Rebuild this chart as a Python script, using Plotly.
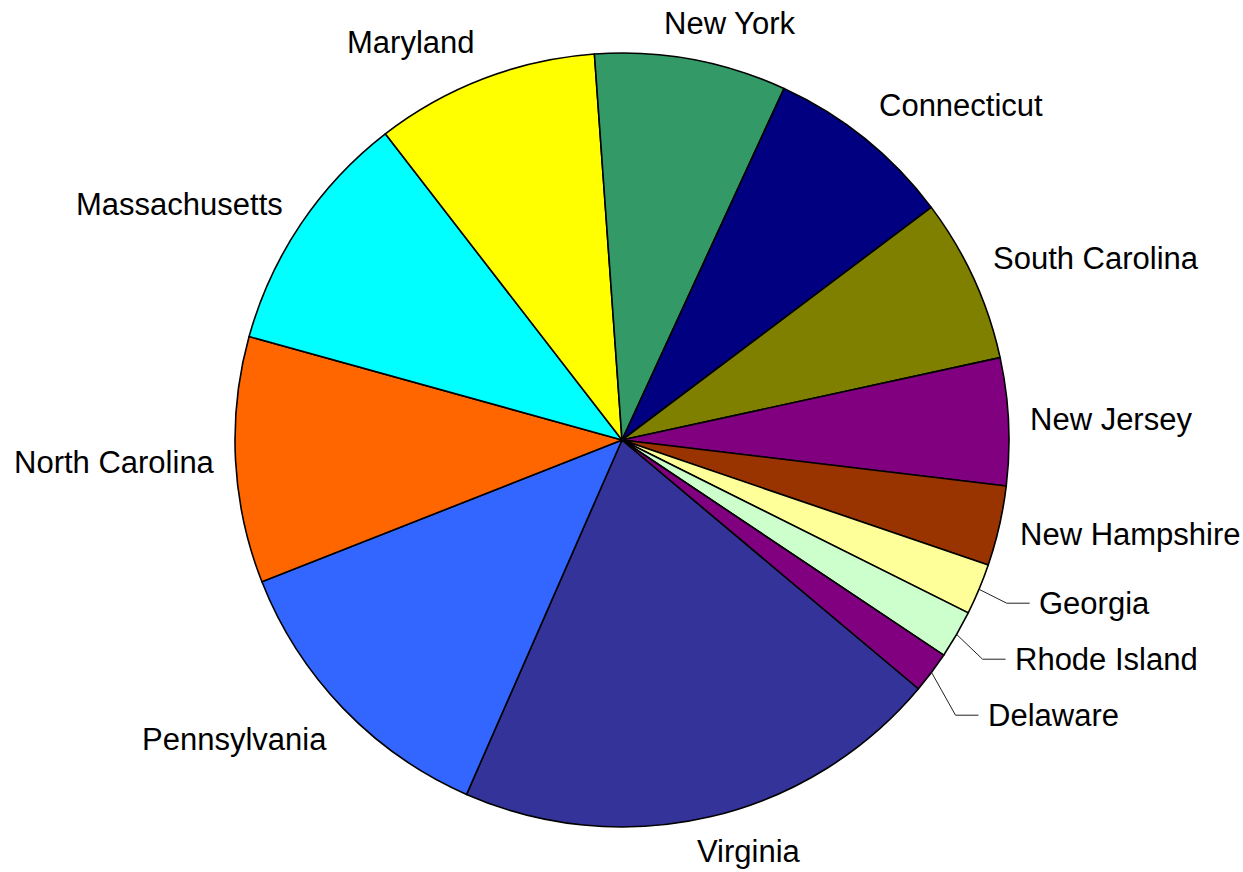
import math
import plotly.graph_objects as go

# 1780 population estimates of the thirteen states
states = ["Virginia", "Pennsylvania", "North Carolina", "Massachusetts", "Maryland",
          "New York", "Connecticut", "South Carolina", "New Jersey", "New Hampshire",
          "Georgia", "Rhode Island", "Delaware"]
population = [538004, 327305, 270133, 268627, 245474,
              210541, 206701, 180000, 139627, 87802,
              56071, 52946, 45385]
colors = ["#333399", "#3366FF", "#FF6600", "#00FFFF", "#FFFF00",
          "#339966", "#000080", "#808000", "#800080", "#993300",
          "#FFFF99", "#CCFFCC", "#800080"]

W, H = 1243, 872
CX, CY, R = 622, 440, 387
ROTATION = 130
FONT = dict(family="Liberation Sans, Arial, sans-serif", size=31, color="black")
# small vertical label nudges (pixels) to mimic the original label placement
label_dy = {"Connecticut": -5, "South Carolina": -5, "Pennsylvania": 6, "Maryland": -2}


def paper(x, y):
    return x / W, 1 - y / H


total = float(sum(population))
items = []
cum = 0.0
for name, v in zip(states, population):
    mid = math.radians(ROTATION + (cum + v / 2.0) / total * 360.0)
    cum += v
    s, c = math.sin(mid), math.cos(mid)
    it = dict(name=name, s=s, c=c, frac=v / total)
    it["y"] = CY - (R + 36) * c + label_dy.get(name, 0)
    if it["frac"] < 0.03:
        it["kind"] = "leader"
        it["ex"] = CX + (R + 30) * s
        it["x"] = it["ex"] + 30
        it["xanchor"] = "left"
    elif abs(s) < 0.3:
        it["kind"] = "plain"
        it["x"] = CX + (R + 22) * s + 34
        it["xanchor"] = "center"
    else:
        it["kind"] = "plain"
        it["x"] = CX + (R + 19) * s
        it["xanchor"] = "left" if s > 0 else "right"
    items.append(it)

# push overlapping labels on the right side downward
right = sorted([it for it in items if it["xanchor"] == "left"], key=lambda d: d["y"])
prev = None
for it in right:
    if prev is not None and it["y"] < prev + 56:
        it["y"] = prev + 56
    prev = it["y"]

annotations = []
shapes = []
for it in items:
    x, y = paper(it["x"], it["y"])
    annotations.append(dict(
        x=x, y=y, xref="paper", yref="paper", text=it["name"], showarrow=False,
        xanchor=it["xanchor"], yanchor="middle", font=FONT
    ))
    if it["kind"] == "leader":
        p0 = paper(CX + R * it["s"], CY - R * it["c"])
        p1 = paper(it["ex"], it["y"])
        p2 = paper(it["ex"] + 23, it["y"])
        shapes.append(dict(
            type="path", xref="paper", yref="paper",
            path=f"M {p0[0]},{p0[1]} L {p1[0]},{p1[1]} L {p2[0]},{p2[1]}",
            line=dict(color="#222222", width=1)
        ))

fig = go.Figure(go.Pie(
    labels=states, values=population, sort=False, direction="clockwise",
    rotation=ROTATION, textinfo="none", hoverinfo="label+value+percent",
    marker=dict(colors=colors, line=dict(color="black", width=1.6)),
    domain=dict(x=[(CX - R) / W, (CX + R) / W],
                y=[(H - CY - R) / H, (H - CY + R) / H]),
    showlegend=False
))
fig.update_layout(
    width=W, height=H, margin=dict(l=0, r=0, t=0, b=0),
    paper_bgcolor="white", plot_bgcolor="white",
    annotations=annotations, shapes=shapes, showlegend=False
)
fig.write_html("out.html")
